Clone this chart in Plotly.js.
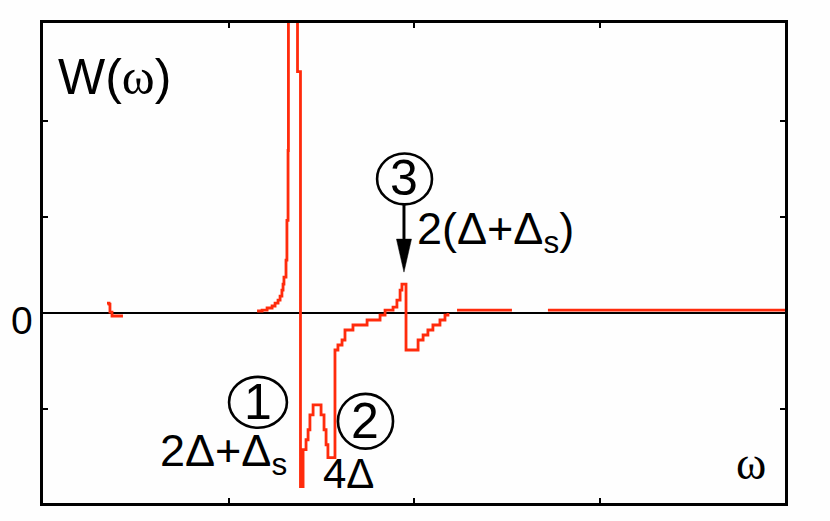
<!DOCTYPE html>
<html>
<head>
<meta charset="utf-8">
<script src="https://cdn.plot.ly/plotly-3.0.1.min.js"></script>
<style>html,body{margin:0;padding:0;background:#fefefe;}</style>
</head>
<body>
<div id="chart" style="width:830px;height:521px;"></div>
<script>
// omega (arbitrary units) and W(omega) (arbitrary units)
const blipOmega = [0.345, 0.356, 0.361, 0.372, 0.431];
const blipW     = [0.099, 0.088, 0.005, -0.036, -0.036];

const mainOmega = [1.154, 1.181, 1.208, 1.235, 1.251, 1.267, 1.278, 1.288, 1.294, 1.299,
  1.310, 1.315, 1.321, 1.323, 1.372, 1.372, 1.388, 1.388, 1.399, 1.402,
  1.418, 1.429, 1.439, 1.456, 1.488, 1.499, 1.515, 1.526, 1.536, 1.553,
  1.563, 1.574, 1.590, 1.612, 1.628, 1.671, 1.747, 1.817, 1.844, 1.887,
  1.908, 1.925, 1.935, 1.957, 1.957, 2.005, 2.022, 2.049, 2.075, 2.102,
  2.140, 2.167, 2.183];
const mainW = [0.016, 0.026, 0.047, 0.068, 0.099, 0.130, 0.171, 0.234, 0.296, 0.369,
  0.545, 0.961, 1.688, 8.0, 8.0, 2.509, 2.509, -1.813, -1.813, -1.429,
  -1.325, -1.221, -1.065, -0.961, -0.961, -1.065, -1.221, -1.377, -1.512, -1.512,
  -1.512, -0.390, -0.338, -0.286, -0.182, -0.130, -0.078, -0.026, 0.026, 0.057,
  0.130, 0.234, 0.296, 0.296, -0.390, -0.390, -0.286, -0.234, -0.182, -0.130,
  -0.078, -0.026, -0.005];

const tailOmega = [2.232, 2.528, null, 2.722, 4.000];
const tailW     = [0.026, 0.026, null, 0.026, 0.026];

const yTickVals = [-1, 0, 1, 2];
const xTickVals = [1, 2, 3];
const zeroLabel = '0';

const red = '#ff2b0c';
const lineStyle = {color: red, width: 2.8, shape: 'hv'};

const traces = [
  {x: blipOmega, y: blipW, mode: 'lines', line: lineStyle, hoverinfo: 'skip'},
  {x: mainOmega, y: mainW, mode: 'lines', line: lineStyle, hoverinfo: 'skip'},
  {x: tailOmega, y: tailW, mode: 'lines', line: lineStyle, hoverinfo: 'skip', connectgaps: false}
];

const sans = 'Liberation Sans, Arial, sans-serif';
const serif = 'Liberation Serif, Times New Roman, serif';

function txt(text, x, y, size, xanchor, family) {
  return {text: text, x: x, y: y, xref: 'x', yref: 'y', showarrow: false,
    xanchor: xanchor || 'center', yanchor: 'middle',
    font: {family: family || sans, size: size, color: '#000'}};
}

const annotations = [
  txt('W(<span style="font-family:Liberation Serif">ω</span>)', 0.388, 2.452, 50),
  txt('ω', 3.817, -1.574, 46, 'center', serif),
  txt('1', 1.159, -0.930, 50),
  txt('2', 1.736, -1.127, 50),
  txt('3', 1.946, 1.397, 50),
  txt('2Δ+Δ<sub>s</sub>', 0.620, -1.470, 45, 'left'),
  txt('4Δ', 1.499, -1.678, 42, 'left'),
  txt('2(Δ+Δ<sub>s</sub>)', 2.005, 0.842, 45, 'left'),
  {text: zeroLabel, x: -0.0286, y: 0.38, xref: 'paper', yref: 'paper',
   showarrow: false, xanchor: 'center', yanchor: 'middle',
   font: {family: sans, size: 39, color: '#000'}}
];

const circ = (x0, x1, y0, y1) => ({type: 'circle', xref: 'x', yref: 'y',
  x0: x0, x1: x1, y0: y0, y1: y1, line: {color: '#000', width: 2.6}});

const shapes = [
  circ(1.003, 1.315, -1.200, -0.670),
  circ(1.590, 1.887, -1.418, -0.847),
  circ(1.801, 2.097, 1.127, 1.657),
  {type: 'path', xref: 'x', yref: 'y', xsizemode: 'pixel', ysizemode: 'pixel',
   xanchor: 1.946, yanchor: 0.421,
   path: 'M0,0 L-7.5,33 L-1.2,33 L-1.2,67 L1.2,67 L1.2,33 L7.5,33 Z',
   fillcolor: '#000', line: {color: '#000', width: 0.5}}
];

const layout = {
  width: 830, height: 521,
  margin: {l: 43, r: 45, t: 23, b: 18, pad: 0},
  paper_bgcolor: '#fefefe', plot_bgcolor: '#fefefe',
  showlegend: false,
  xaxis: {range: [0, 4], showgrid: false, zeroline: false, showline: true,
    linecolor: '#000', linewidth: 2.6, mirror: 'ticks', ticks: 'inside',
    ticklen: 5, tickwidth: 2, tickcolor: '#000', tickmode: 'array',
    tickvals: xTickVals, showticklabels: false, fixedrange: true},
  yaxis: {range: [-1.984, 3.016], showgrid: false, zeroline: true,
    zerolinecolor: '#000', zerolinewidth: 2, showline: true,
    linecolor: '#000', linewidth: 2.6, mirror: 'ticks', ticks: 'inside',
    ticklen: 5, tickwidth: 2, tickcolor: '#000', tickmode: 'array',
    tickvals: yTickVals, showticklabels: false, fixedrange: true},
  annotations: annotations,
  shapes: shapes
};

Plotly.newPlot('chart', traces, layout, {staticPlot: true, displayModeBar: false});
</script>
</body>
</html>
